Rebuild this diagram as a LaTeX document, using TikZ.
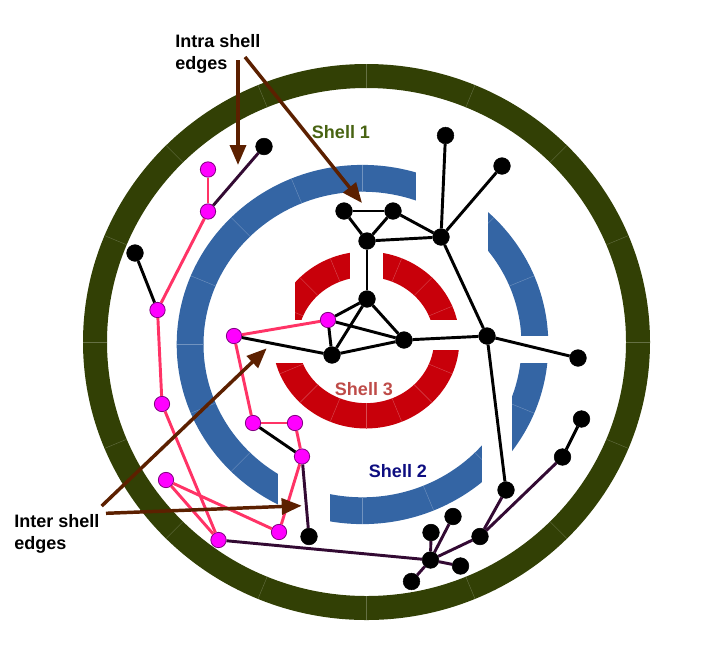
\documentclass[tikz,border=0pt]{standalone}
\usepackage{fontspec}
\setmainfont{Liberation Sans}
\usetikzlibrary{arrows.meta}
\definecolor{ringout}{HTML}{324005}
\definecolor{ringmid}{HTML}{3465A4}
\definecolor{ringin}{HTML}{C8000A}
\definecolor{txtone}{HTML}{486312}
\definecolor{txttwo}{HTML}{0D0D80}
\definecolor{txtthree}{HTML}{BE4B48}
\definecolor{pkfill}{HTML}{FF00FF}
\definecolor{pkrim}{HTML}{800080}
\definecolor{pkline}{HTML}{FF3366}
\definecolor{xline}{HTML}{330A33}
\definecolor{pointer}{HTML}{5C2000}
\tikzset{
  nd/.style={circle, draw=black, fill=black, minimum size=12.5pt, inner sep=0pt},
  pk/.style={circle, draw=pkrim, fill=pkfill, line width=0.6pt, minimum size=11.5pt, inner sep=0pt},
  eg/.style={line width=2.2pt, black},
  egpk/.style={line width=2.2pt, pkline},
  egx/.style={line width=2.2pt, xline},
  sep/.style={line width=0.3pt},
  mask/.style={fill=white},
  arr/.style={-{Triangle[length=15pt, width=12pt]}, line width=2.6pt, color=pointer},
  lbl/.style={font=\bfseries\fontsize{13.5}{16.1}\selectfont, inner sep=0pt},
}
\begin{document}
\begin{tikzpicture}[x=0.75pt, y=-0.75pt]
  \useasboundingbox (0,0) rectangle (710,644);
  % rings
  \draw[line width=18pt, ringout] (366.5,342) ellipse [x radius=271.5, y radius=266];
  \draw[line width=20.1pt, ringmid] (362.5,344.5) ellipse [x radius=172.4, y radius=166.2];
  \draw[line width=19pt, ringin] (366,340) ellipse [x radius=80.7, y radius=75.8];
  \foreach \a in {0,22.5,...,337.5} {
    \draw[sep, ringout!75!white, shift={(366.5,342)}] (\a:259.5 and 254) -- (\a:283.5 and 278);
    \draw[sep, ringmid!70!white, shift={(362.5,344.5)}] (\a:159 and 152.9) -- (\a:185.8 and 179.5);
    \draw[sep, ringin!70!white, shift={(366,340)}] (\a:68 and 63) -- (\a:93.5 and 88.5);
  }
  % gaps
  \fill[mask] (416,155) rectangle (488,253);
  \fill[mask] (512,335.7) rectangle (556,363.3);
  \fill[mask] (278,465) rectangle (330,540);
  \fill[mask] (482,390) rectangle (511.7,495);
  \fill[mask] (350,240) rectangle (383,290);
  \fill[mask] (260,320) rectangle (305,363);
  \fill[mask] (428,320) rectangle (470,349.5);
  \fill[mask] (260,240) rectangle (295.4,320);

  % inner nodes
  \node[nd] (a1) at (344,211) {};
  \node[nd] (a2) at (393,211) {};
  \node[nd] (a3) at (367,241) {};
  \node[nd] (a4) at (441,237) {};
  \node[nd] (a5) at (445.5,135.5) {};
  \node[nd] (a6) at (502,166) {};
  \node[nd] (a7) at (367,299) {};
  \node[nd] (a8) at (404,340) {};
  \node[nd] (a9) at (332,355) {};
  \node[nd] (a10) at (487,336) {};
  \node[nd] (a11) at (578,358) {};
  \node[nd] (a12) at (506,490) {};
  \node[nd] (b1) at (581.5,419) {};
  \node[nd] (b2) at (562.5,457) {};
  \node[nd] (b3) at (480,536.5) {};
  \node[nd] (b4) at (430.5,560) {};
  \node[nd] (b5) at (431,532.5) {};
  \node[nd] (b6) at (453,516.5) {};
  \node[nd] (b7) at (460.5,566) {};
  \node[nd] (b8) at (411.5,581.5) {};
  \node[nd] (c1) at (264,146.5) {};
  \node[nd] (c2) at (135,253) {};
  \node[nd] (c3) at (309,536.5) {};
  % pink nodes
  \node[pk] (p1) at (208,169.5) {};
  \node[pk] (p2) at (208,211.5) {};
  \node[pk] (p3) at (157.5,310) {};
  \node[pk] (p4) at (234,336) {};
  \node[pk] (p5) at (328,320) {};
  \node[pk] (p6) at (162,404) {};
  \node[pk] (p7) at (253,423) {};
  \node[pk] (p8) at (295,423) {};
  \node[pk] (p9) at (302,456.5) {};
  \node[pk] (p10) at (166,480) {};
  \node[pk] (p11) at (279,532) {};
  \node[pk] (p12) at (218.5,540) {};

  \foreach \u/\v in {a1/a2, a1/a3, a2/a3, a2/a4, a3/a4, a3/a7, a4/a5, a4/a6, a4/a10,
      a7/p5, a7/a9, a7/a8, p5/a9, p5/a8, a9/a8, a8/a10, a10/a11, a10/a12,
      p4/a9, c2/p3, p7/p9, b1/b2}
    \draw[eg] (\u) -- (\v);
  \foreach \u/\v in {p2/c1, p9/c3, p12/b4, b4/b5, b4/b6, b4/b7, b4/b8, b4/b3, b3/a12, b3/b2}
    \draw[egx] (\u) -- (\v);
  \foreach \u/\v in {p1/p2, p2/p3, p3/p6, p6/p12, p12/p10, p10/p11, p11/p9, p9/p8, p8/p7, p7/p4, p4/p5}
    \draw[egpk] (\u) -- (\v);

  % labels
  \node[lbl, text=txtone] (sh1) at (341,132.5) {Shell 1};
  \node[lbl, text=txttwo] (sh2) at (398,471.5) {Shell 2};
  \node[lbl, text=txtthree] (sh3) at (364,389) {Shell 3};
  \node[lbl, anchor=west, align=left] (intra) at (175,54) {Intra shell\\edges};
  \node[lbl, anchor=west, align=left] (inter) at (14,534) {Inter shell\\edges};

  % pointers
  \coordinate (i1s) at (238,60);
  \coordinate (i1t) at (238,165);
  \coordinate (i2s) at (245,57);
  \coordinate (i2t) at (362,203);
  \coordinate (e1s) at (101.7,506);
  \coordinate (e1t) at (266.7,348.3);
  \coordinate (e2s) at (106,513.3);
  \coordinate (e2t) at (301.7,505.7);
  \draw[arr] (i1s) -- (i1t);
  \draw[arr] (i2s) -- (i2t);
  \draw[arr] (e1s) -- (e1t);
  \draw[arr] (e2s) -- (e2t);
\end{tikzpicture}
\end{document}
